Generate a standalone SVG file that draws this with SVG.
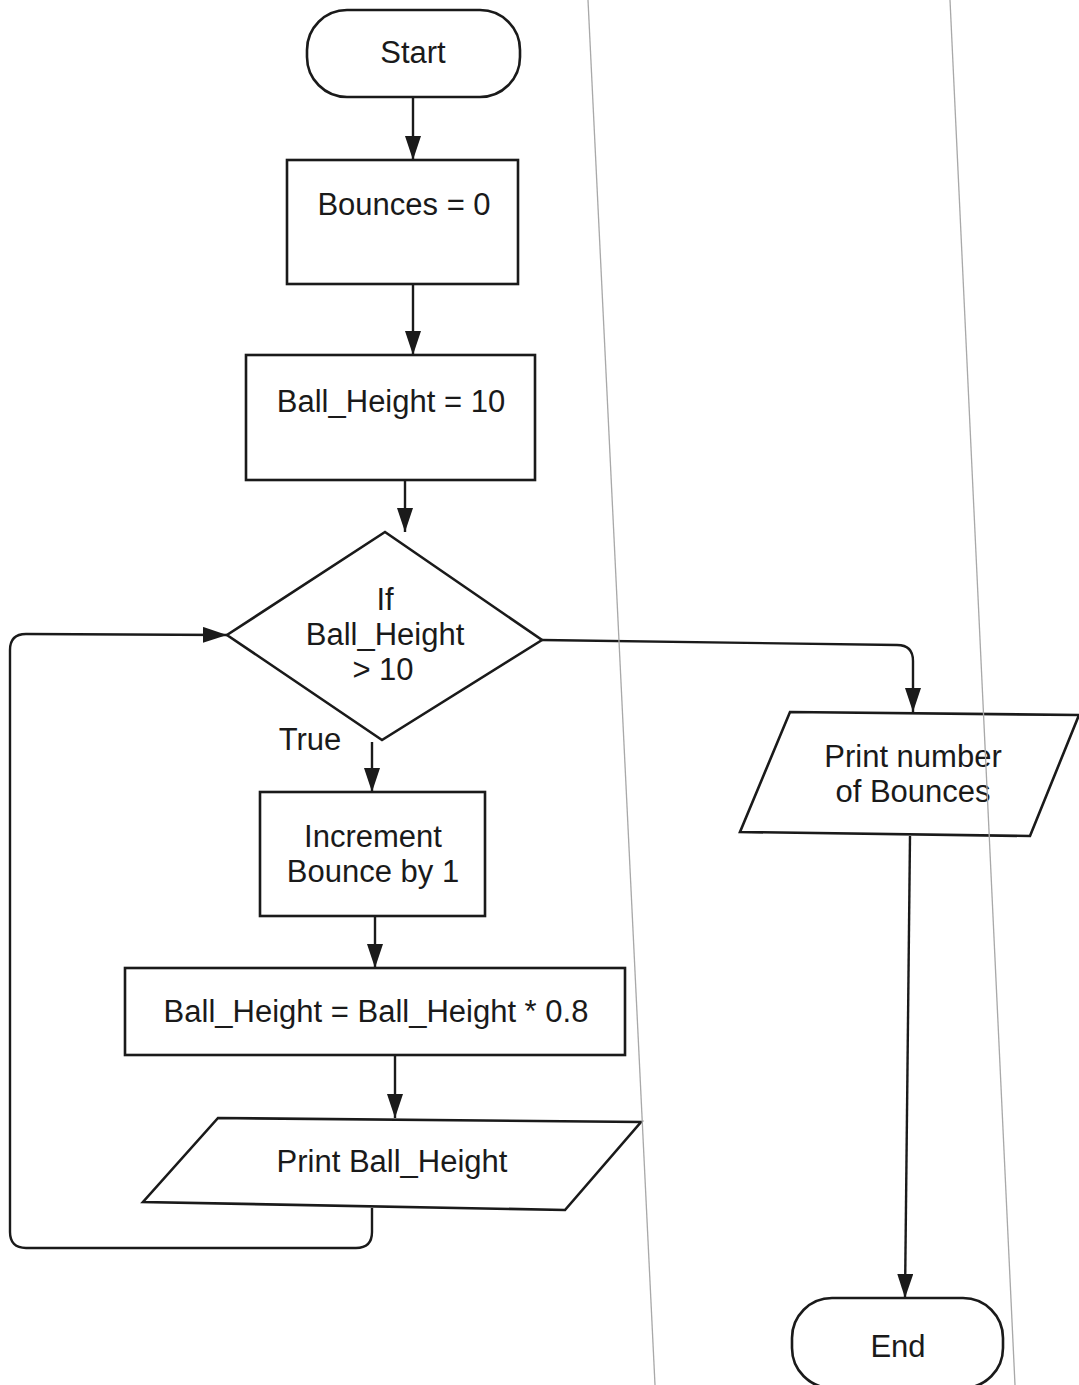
<svg xmlns="http://www.w3.org/2000/svg" width="1079" height="1385" viewBox="0 0 1079 1385">
<style>
.shape{fill:#fff;stroke:#1a1a1a;stroke-width:2.6}
.conn{fill:none;stroke:#1a1a1a;stroke-width:2.4}
.t{font-family:"Liberation Sans",Arial,sans-serif;font-size:31px;fill:#1a1a1a;text-anchor:middle}
.fold{stroke:#a8a8a8;stroke-width:1.3;fill:none}
</style>
<defs>
<marker id="ah" viewBox="0 0 24 16" refX="24" refY="8" markerWidth="24" markerHeight="16" markerUnits="userSpaceOnUse" orient="auto">
<path d="M0,0 L24,8 L0,16 z" fill="#1a1a1a"/>
</marker>
</defs>
<rect width="1079" height="1385" fill="#fff"/>
<g id="connectors">
<path class="conn" d="M413,97 L413,160" marker-end="url(#ah)"/>
<path class="conn" d="M413,284 L413,355" marker-end="url(#ah)"/>
<path class="conn" d="M405,480 L405,532" marker-end="url(#ah)"/>
<path class="conn" d="M372,742 L372,792" marker-end="url(#ah)"/>
<path class="conn" d="M375,916 L375,968" marker-end="url(#ah)"/>
<path class="conn" d="M395,1055 L395,1118" marker-end="url(#ah)"/>
<path class="conn" d="M372,1208 L372,1232 Q372,1248 356,1248 L26,1248 Q10,1248 10,1232 L10,650 Q10,634 26,634 L227,635" marker-end="url(#ah)"/>
<path class="conn" d="M542,640 L897,645 Q913,645 913,661 L913,712" marker-end="url(#ah)"/>
<path class="conn" d="M910,836 L905,1298" marker-end="url(#ah)"/>
</g>
<g id="start">
<rect class="shape" x="307" y="10" width="213" height="87" rx="40" ry="40"/>
<text class="t" x="413" y="63">Start</text>
</g>
<g id="bounces-init">
<rect class="shape" x="287" y="160" width="231" height="124"/>
<text class="t" x="404" y="215">Bounces = 0</text>
</g>
<g id="height-init">
<rect class="shape" x="246" y="355" width="289" height="125"/>
<text class="t" x="391" y="412">Ball_Height = 10</text>
</g>
<g id="decision">
<polygon class="shape" points="385,532 542,640 382,740 227,635"/>
<text class="t" x="385" y="610">If</text>
<text class="t" x="385" y="645">Ball_Height</text>
<text class="t" x="383" y="680">&gt; 10</text>
<text class="t" x="310" y="750">True</text>
</g>
<g id="increment">
<rect class="shape" x="260" y="792" width="225" height="124"/>
<text class="t" x="373" y="847">Increment</text>
<text class="t" x="373" y="882">Bounce by 1</text>
</g>
<g id="height-update">
<rect class="shape" x="125" y="968" width="500" height="87"/>
<text class="t" x="376" y="1022">Ball_Height = Ball_Height * 0.8</text>
</g>
<g id="print-height">
<polygon class="shape" points="218,1118 641,1122 565,1210 143,1202"/>
<text class="t" x="392" y="1172">Print Ball_Height</text>
</g>
<g id="print-bounces">
<polygon class="shape" points="790,712 1079,715 1030,836 740,832"/>
<text class="t" x="913" y="767">Print number</text>
<text class="t" x="913" y="802">of Bounces</text>
</g>
<g id="end">
<rect class="shape" x="792" y="1298" width="211" height="90" rx="40" ry="40"/>
<text class="t" x="898" y="1357">End</text>
</g>
<g id="fold-lines">
<path class="fold" d="M588,0 L655,1385"/>
<path class="fold" d="M950,0 L1015,1385"/>
</g>
</svg>
